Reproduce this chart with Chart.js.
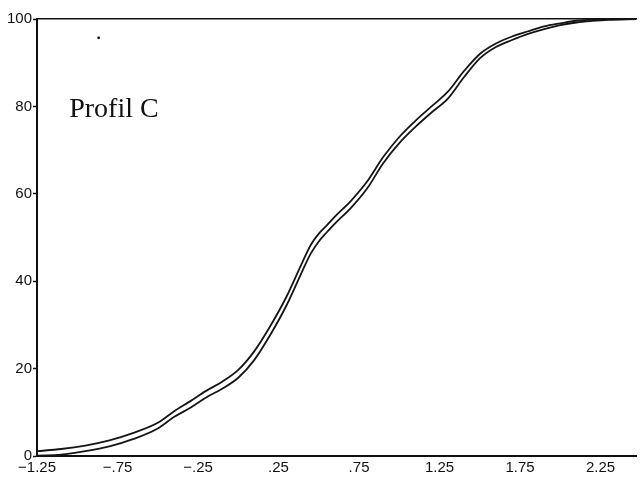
<!DOCTYPE html>
<html>
<head>
<meta charset="utf-8">
<script src="https://cdn.jsdelivr.net/npm/chart.js@4"></script>
<style>
  html, body { margin: 0; padding: 0; background: #fff; }
  #wrap { width: 640px; height: 478px; position: relative; }
</style>
</head>
<body>
<div id="wrap"><canvas id="chart"></canvas></div>
<script>
// x positions of the sampled points
const xValues = [-1.25, -1.1, -0.95, -0.8, -0.65, -0.5, -0.4, -0.3, -0.2, -0.1, 0, 0.1, 0.2, 0.3, 0.4, 0.45, 0.5, 0.55, 0.6, 0.7, 0.8, 0.9, 1.0, 1.1, 1.2, 1.3, 1.4, 1.5, 1.6, 1.7, 1.8, 1.9, 2.0, 2.1, 2.2, 2.3, 2.47];

// upper / left curve (cumulative %)
const curveA = [1.1, 1.6, 2.4, 3.6, 5.3, 7.6, 10.2, 12.5, 14.9, 17.0, 19.7, 24.0, 29.8, 36.5, 44.5, 48.3, 50.9, 52.8, 54.8, 58.4, 62.8, 68.4, 73.0, 76.7, 80.0, 83.3, 88.0, 92.0, 94.4, 96.0, 97.2, 98.3, 99.0, 99.6, 99.85, 100, 100.2];

// lower / right curve (cumulative %)
const curveB = [0.1, 0.3, 1.1, 2.2, 3.9, 6.3, 8.9, 11.0, 13.4, 15.4, 17.9, 22.0, 27.8, 34.5, 42.5, 46.3, 49.1, 51.2, 53.2, 56.8, 61.2, 67.0, 71.6, 75.3, 78.6, 81.7, 86.6, 91.0, 93.6, 95.2, 96.6, 97.7, 98.6, 99.2, 99.55, 99.8, 100];

// stray dot in the top left corner
const dotX = [-0.867];
const dotY = [95.7];

// axis ticks
const xTicks = [-1.25, -0.75, -0.25, 0.25, 0.75, 1.25, 1.75, 2.25];
const yTicks = [0, 20, 40, 60, 80, 100];

const chartTitle = 'Profil C';

function toPoints(xs, ys) {
    return xs.map((x, i) => ({ x: x, y: ys[i] }));
}

// format like the original: ".25", "-.75", "−1.25"
function formatX(v) {
    let s = Math.abs(v).toFixed(2);
    if (s.startsWith('0')) s = s.slice(1);
    return (v < 0 ? '\u2212' : '') + s;
}

// text label inside the plot
const titlePlugin = {
    id: 'profilLabel',
    afterDatasetsDraw(chart) {
        const ctx = chart.ctx;
        const x = chart.scales.x.getPixelForValue(-1.05);
        const y = chart.scales.y.getPixelForValue(77.6);
        ctx.save();
        ctx.fillStyle = '#111';
        ctx.font = '28px "Liberation Serif", "Times New Roman", serif';
        ctx.textBaseline = 'alphabetic';
        ctx.fillText(chartTitle, x, y);
        ctx.restore();
    }
};

const lineStyle = {
    borderColor: '#151515',
    borderWidth: 1.8,
    pointRadius: 0,
    fill: false,
    cubicInterpolationMode: 'monotone'
};

new Chart(document.getElementById('chart'), {
    type: 'line',
    data: {
        datasets: [
            Object.assign({ label: 'A', data: toPoints(xValues, curveA) }, lineStyle),
            Object.assign({ label: 'B', data: toPoints(xValues, curveB) }, lineStyle),
            {
                type: 'scatter',
                label: 'dot',
                data: toPoints(dotX, dotY),
                pointRadius: 1.4,
                pointBackgroundColor: '#111',
                pointBorderWidth: 0
            }
        ]
    },
    options: {
        responsive: true,
        maintainAspectRatio: false,
        animation: false,
        layout: { padding: { top: 19, right: 0, left: 0, bottom: 0 } },
        plugins: {
            legend: { display: false },
            tooltip: { enabled: false }
        },
        scales: {
            x: {
                type: 'linear',
                min: -1.25,
                max: 2.47,
                afterBuildTicks: (axis) => { axis.ticks = xTicks.map(v => ({ value: v })); },
                afterFit: (axis) => { axis.height = 22; },
                grid: { display: false, drawTicks: false },
                border: { color: '#111', width: 2 },
                ticks: {
                    color: '#111',
                    padding: 3,
                    maxRotation: 0,
                    autoSkip: false,
                    font: { family: '"Liberation Sans", Arial, sans-serif', size: 15 },
                    callback: (v) => formatX(v)
                }
            },
            xTop: {
                type: 'linear',
                position: 'top',
                min: -1.25,
                max: 2.47,
                afterFit: (axis) => { axis.height = 0; },
                grid: { display: false, drawTicks: false },
                border: { color: '#111', width: 1.5 },
                ticks: { display: false }
            },
            y: {
                min: 0,
                max: 100,
                afterBuildTicks: (axis) => { axis.ticks = yTicks.map(v => ({ value: v })); },
                afterFit: (axis) => { axis.width = 37; },
                grid: { display: true, drawOnChartArea: false, drawTicks: true, tickLength: 4, color: '#111', tickWidth: 1.5 },
                border: { color: '#111', width: 2 },
                ticks: {
                    color: '#111',
                    padding: 1,
                    font: { family: '"Liberation Sans", Arial, sans-serif', size: 15 }
                }
            }
        }
    },
    plugins: [titlePlugin]
});
</script>
</body>
</html>
